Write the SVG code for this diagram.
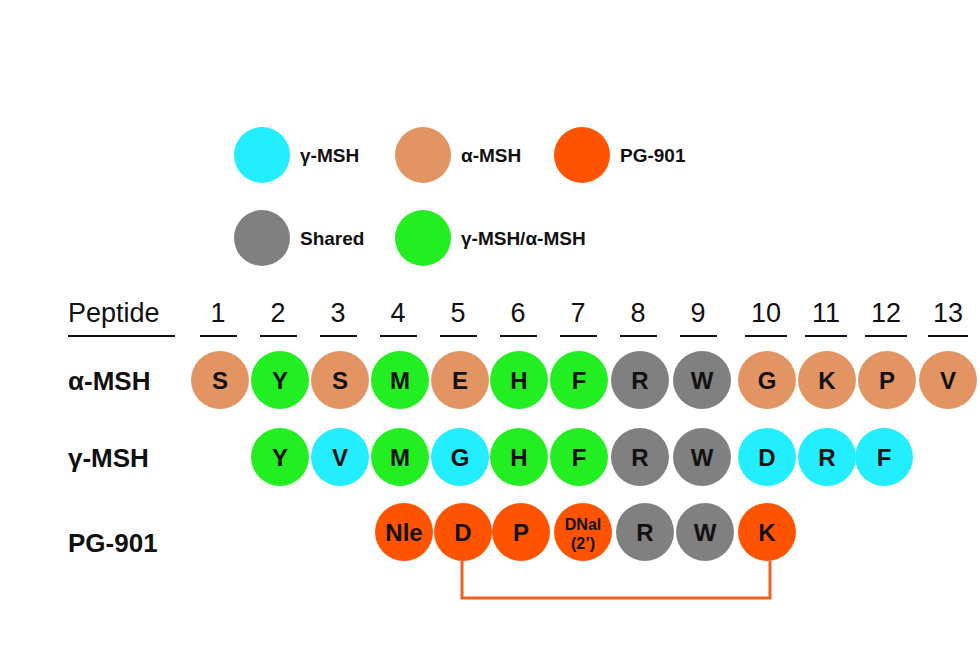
<svg xmlns="http://www.w3.org/2000/svg" width="980" height="654" viewBox="0 0 980 654">
<style>
text{font-family:"Liberation Sans",Arial,sans-serif;font-weight:bold;fill:#111}
.res{font-size:24px;text-anchor:middle}
.lg{font-size:19px}
.hd{font-size:27px;text-anchor:middle;font-weight:normal}
.rl{font-size:26px}
.a{fill:#E39463}.g{fill:#22EE22}.c{fill:#22EEFF}.o{fill:#FF5300}.s{fill:#808080}
</style>
<rect width="980" height="654" fill="#fff"/>
<g id="legend">
<circle class="c" cx="262" cy="155" r="28"/><text class="lg" x="300" y="162">γ-MSH</text>
<circle class="a" cx="423" cy="155" r="28"/><text class="lg" x="461" y="162">α-MSH</text>
<circle class="o" cx="582" cy="155" r="28"/><text class="lg" x="620" y="162">PG-901</text>
<circle class="s" cx="262" cy="238" r="28"/><text class="lg" x="300" y="245">Shared</text>
<circle class="g" cx="423" cy="238" r="28"/><text class="lg" x="461" y="245">γ-MSH/α-MSH</text>
</g>
<g id="header">
<text x="68" y="322" style="font-size:27px;font-weight:normal">Peptide</text>
<g class="hd">
<text class="hd" x="218" y="322">1</text><text class="hd" x="278" y="322">2</text><text class="hd" x="338" y="322">3</text><text class="hd" x="398" y="322">4</text><text class="hd" x="458" y="322">5</text><text class="hd" x="518" y="322">6</text><text class="hd" x="578" y="322">7</text><text class="hd" x="638" y="322">8</text><text class="hd" x="698" y="322">9</text><text class="hd" x="766" y="322">10</text><text class="hd" x="826" y="322">11</text><text class="hd" x="886" y="322">12</text><text class="hd" x="948" y="322">13</text>
</g>
<g stroke="#111" stroke-width="2">
<line x1="68" y1="336" x2="175" y2="336"/>
<line x1="200" y1="336" x2="237" y2="336"/><line x1="260" y1="336" x2="297" y2="336"/><line x1="320" y1="336" x2="357" y2="336"/><line x1="380" y1="336" x2="417" y2="336"/><line x1="440" y1="336" x2="477" y2="336"/><line x1="500" y1="336" x2="537" y2="336"/><line x1="560" y1="336" x2="597" y2="336"/><line x1="620" y1="336" x2="657" y2="336"/><line x1="680" y1="336" x2="717" y2="336"/><line x1="745" y1="336" x2="787" y2="336"/><line x1="805" y1="336" x2="847" y2="336"/><line x1="865" y1="336" x2="907" y2="336"/><line x1="928" y1="336" x2="968" y2="336"/>
</g>
</g>
<g id="alpha">
<text class="rl" x="68" y="390">α-MSH</text>
<circle class="a" cx="220" cy="380" r="29"/><text class="res" x="220" y="389">S</text>
<circle class="g" cx="280" cy="380" r="29"/><text class="res" x="280" y="389">Y</text>
<circle class="a" cx="340" cy="380" r="29"/><text class="res" x="340" y="389">S</text>
<circle class="g" cx="400" cy="380" r="29"/><text class="res" x="400" y="389">M</text>
<circle class="a" cx="460" cy="380" r="29"/><text class="res" x="460" y="389">E</text>
<circle class="g" cx="519" cy="380" r="29"/><text class="res" x="519" y="389">H</text>
<circle class="g" cx="579" cy="380" r="29"/><text class="res" x="579" y="389">F</text>
<circle class="s" cx="640" cy="380" r="29"/><text class="res" x="640" y="389">R</text>
<circle class="s" cx="702" cy="380" r="29"/><text class="res" x="702" y="389">W</text>
<circle class="a" cx="767" cy="380" r="29"/><text class="res" x="767" y="389">G</text>
<circle class="a" cx="827" cy="380" r="29"/><text class="res" x="827" y="389">K</text>
<circle class="a" cx="887" cy="380" r="29"/><text class="res" x="887" y="389">P</text>
<circle class="a" cx="948" cy="380" r="29"/><text class="res" x="948" y="389">V</text>
</g>
<g id="gamma">
<text class="rl" x="68" y="467">γ-MSH</text>
<circle class="g" cx="280" cy="457" r="29"/><text class="res" x="280" y="466">Y</text>
<circle class="c" cx="340" cy="457" r="29"/><text class="res" x="340" y="466">V</text>
<circle class="g" cx="400" cy="457" r="29"/><text class="res" x="400" y="466">M</text>
<circle class="c" cx="460" cy="457" r="29"/><text class="res" x="460" y="466">G</text>
<circle class="g" cx="519" cy="457" r="29"/><text class="res" x="519" y="466">H</text>
<circle class="g" cx="579" cy="457" r="29"/><text class="res" x="579" y="466">F</text>
<circle class="s" cx="640" cy="457" r="29"/><text class="res" x="640" y="466">R</text>
<circle class="s" cx="702" cy="457" r="29"/><text class="res" x="702" y="466">W</text>
<circle class="c" cx="767" cy="457" r="29"/><text class="res" x="767" y="466">D</text>
<circle class="c" cx="827" cy="457" r="29"/><text class="res" x="827" y="466">R</text>
<circle class="c" cx="884" cy="457" r="29"/><text class="res" x="884" y="466">F</text>
</g>
<g id="pg901">
<text class="rl" x="68" y="552">PG-901</text>
<circle class="o" cx="404" cy="532" r="29"/><text class="res" x="404" y="541">Nle</text>
<circle class="o" cx="463" cy="532" r="29"/><text class="res" x="463" y="541">D</text>
<circle class="o" cx="521" cy="532" r="29"/><text class="res" x="521" y="541">P</text>
<circle class="o" cx="583" cy="532" r="29"/><text class="res" x="583" y="530" style="font-size:16px">DNal</text><text class="res" x="583" y="549" style="font-size:16px">(2’)</text>
<circle class="s" cx="645" cy="532" r="29"/><text class="res" x="645" y="541">R</text>
<circle class="s" cx="705" cy="532" r="29"/><text class="res" x="705" y="541">W</text>
<circle class="o" cx="767" cy="532" r="29"/><text class="res" x="767" y="541">K</text>
</g>
<g id="connectors">
<polyline points="462,561 462,598 770,598 770,561" fill="none" stroke="#F06020" stroke-width="3"/>
</g>
</svg>
